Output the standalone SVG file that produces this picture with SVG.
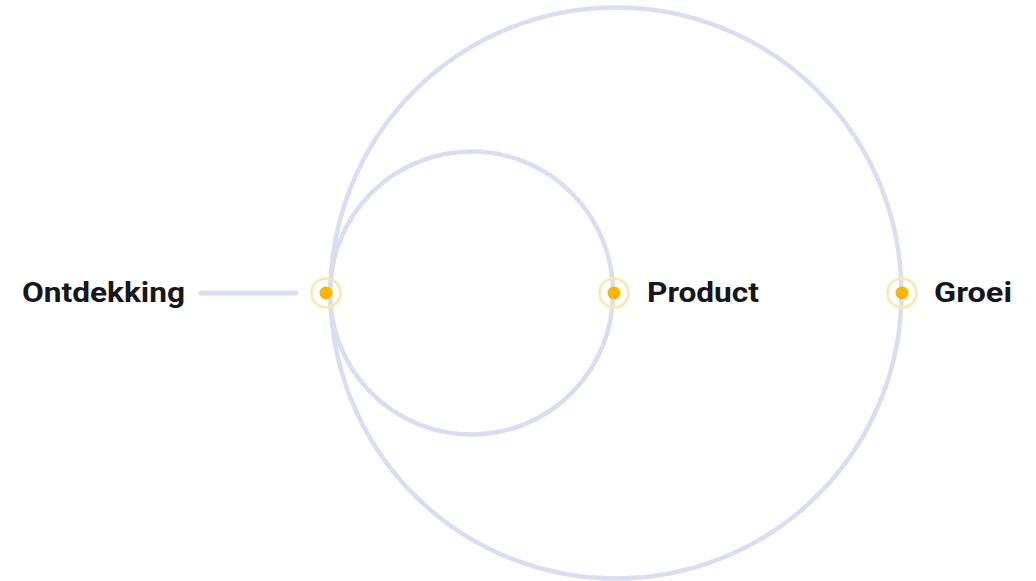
<svg xmlns="http://www.w3.org/2000/svg" width="1036" height="581" viewBox="0 0 1036 581">
<style>
.orbit{fill:none;stroke:#d9dff1;stroke-width:4.5}
.link{stroke:#d9dff1;stroke-width:5;stroke-linecap:round}
.ring{fill:none;stroke:#fde7ad;stroke-width:2.5}
.dot{fill:#fbb600}
.lbl{font-family:Roboto,"Liberation Sans",sans-serif;font-weight:700;font-size:27px;fill:#15171a;dominant-baseline:central}
</style>
<rect width="1036" height="581" fill="#ffffff"/>
<g id="connectors">
<circle class="orbit" cx="616" cy="293" r="285.5"/>
<circle class="orbit" cx="471.5" cy="293" r="141.5"/>
<line class="link" x1="201" y1="293" x2="296" y2="293"/>
</g>
<g id="node-ontdekking">
<circle class="ring" cx="326" cy="293" r="14.5"/>
<circle class="dot" cx="326" cy="293" r="6.5"/>
<text class="lbl" x="22" y="293" textLength="163" lengthAdjust="spacingAndGlyphs">Ontdekking</text>
</g>
<g id="node-product">
<circle class="ring" cx="614" cy="293" r="14.5"/>
<circle class="dot" cx="614" cy="293" r="6.5"/>
<text class="lbl" x="647" y="293" textLength="112" lengthAdjust="spacingAndGlyphs">Product</text>
</g>
<g id="node-groei">
<circle class="ring" cx="902" cy="293" r="14.5"/>
<circle class="dot" cx="902" cy="293" r="6.5"/>
<text class="lbl" x="934" y="293" textLength="78" lengthAdjust="spacingAndGlyphs">Groei</text>
</g>
</svg>
